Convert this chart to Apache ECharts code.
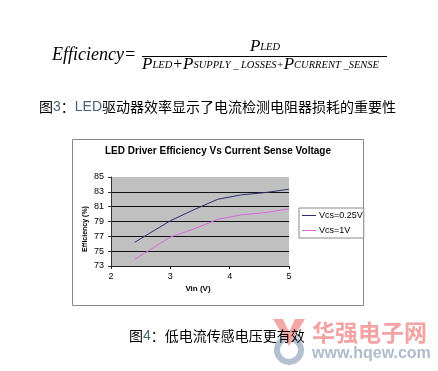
<!DOCTYPE html>
<html>
<head>
<meta charset="utf-8">
<style>
html,body{margin:0;padding:0;background:#fff;}
#c{width:438px;height:371px;}
</style>
<script src="https://cdn.jsdelivr.net/npm/echarts@6/dist/echarts.min.js"></script>
</head>
<body>
<div id="c"></div>
<script>
// ---- data ----
const vin = [2.4, 3.0, 3.4, 3.8, 4.2, 4.6, 5.0];
const effVcs025 = [76.2, 79.1, 80.6, 82.0, 82.6, 82.9, 83.35];
const effVcs1 = [73.9, 76.9, 78.0, 79.3, 79.9, 80.2, 80.7];
const seriesNames = ['Vcs=0.25V', 'Vcs=1V'];
const chartTitle = 'LED Driver Efficiency Vs Current Sense Voltage';
const xName = 'Vin (V)';
const yName = 'Efficiency (%)';
const caption1a = '图';
const caption1b = '3';
const caption1c = '：';
const caption1d = 'LED';
const caption1e = '驱动器效率显示了电流检测电阻器损耗的重要性';
const caption2a = '图';
const caption2b = '4';
const caption2c = '：低电流传感电压更有效';
const wmCn = '华强电子网';
const wmUrl = 'www.hqew.com';

const SANS = '"Liberation Sans", Arial, sans-serif';
const SERIF = '"Liberation Serif", "Times New Roman", serif';
const CJK = '"Noto Sans CJK SC", sans-serif';
const LINE_ICON = 'path://M0,0h14v1h-14z';

const chart = echarts.init(document.getElementById('c'), null, {renderer: 'canvas'});

const pair = (xs, ys) => xs.map((x, i) => [x, ys[i]]);

chart.setOption({
  backgroundColor: '#ffffff',
  animation: false,
  grid: {
    left: 111, top: 177, width: 178, height: 89,
    show: true, backgroundColor: '#c0c0c0', borderWidth: 0
  },
  xAxis: {
    type: 'value', min: 2, max: 5, interval: 1,
    axisLine: {show: true, lineStyle: {color: '#222', width: 1}},
    axisTick: {show: true, length: 3, lineStyle: {color: '#222'}},
    splitLine: {show: false},
    axisLabel: {fontSize: 9, color: '#000', fontFamily: SANS, margin: 6}
  },
  yAxis: {
    type: 'value', min: 73, max: 85, interval: 2,
    axisLine: {show: true, lineStyle: {color: '#333', width: 1}},
    axisTick: {show: true, length: 3, lineStyle: {color: '#333'}},
    splitLine: {show: true, showMinLine: false, showMaxLine: false, lineStyle: {color: '#111', width: 1}},
    axisLabel: {fontSize: 9, color: '#000', fontFamily: SANS, margin: 7}
  },
  legend: {
    orient: 'vertical', left: 299, top: 208,
    data: seriesNames.map(n => ({name: n, icon: LINE_ICON})),
    borderColor: '#888', borderWidth: 1, borderRadius: 0,
    backgroundColor: '#fff',
    padding: [3, 1, 3, 3],
    itemWidth: 14, itemHeight: 8, itemGap: 6,
    textStyle: {fontSize: 9, color: '#000', fontFamily: SANS, padding: [0, 0, 0, -2]}
  },
  series: [
    {name: seriesNames[0], type: 'line', data: pair(vin, effVcs025), symbol: 'none',
     color: '#2e2e6e', lineStyle: {width: 1, color: '#2e2e6e'}},
    {name: seriesNames[1], type: 'line', data: pair(vin, effVcs1), symbol: 'none',
     color: '#dd66dd', lineStyle: {width: 1, color: '#dd66dd'}}
  ],
  graphic: [
    // chart frame
    {type: 'rect', shape: {x: 72.5, y: 139.5, width: 291, height: 166}, silent: true,
     style: {fill: 'none', stroke: '#8a8a8a', lineWidth: 1}, z: 1},
    {type: 'text', style: {text: chartTitle, x: 218, y: 151, textAlign: 'center', textVerticalAlign: 'middle',
     font: 'bold 10px ' + SANS, fill: '#000'}},
    {type: 'text', style: {text: xName, x: 198, y: 289, textAlign: 'center', textVerticalAlign: 'middle',
     font: 'bold 8px ' + SANS, fill: '#000'}},
    {type: 'text', rotation: Math.PI / 2, x: 85, y: 229, style: {text: yName, x: 0, y: 0, textAlign: 'center', textVerticalAlign: 'middle',
     font: 'bold 7px ' + SANS, fill: '#000'}},
    // formula
    {type: 'text', style: {text: 'Efficiency=', x: 52, y: 55, textAlign: 'left', textVerticalAlign: 'middle',
     font: 'italic 18px ' + SERIF, fill: '#000'}},
    {type: 'text', style: {text: '{p|P}{s|LED}', x: 265, y: 46, textAlign: 'center', textVerticalAlign: 'middle',
     rich: {p: {font: 'italic 17px ' + SERIF, fill: '#000', lineHeight: 18, verticalAlign: 'bottom'},
            s: {font: 'italic 10.5px ' + SERIF, fill: '#000', lineHeight: 18, verticalAlign: 'bottom', padding: [0, 0, 2, 0]}}}},
    {type: 'line', shape: {x1: 142, y1: 56.5, x2: 387, y2: 56.5}, style: {stroke: '#000', lineWidth: 1}},
    {type: 'text', style: {text: '{p|P}{s|LED}{o|+}{p|P}{s|SUPPLY _ LOSSES+}{p|P}{s|CURRENT _SENSE}', x: 142, y: 64, textAlign: 'left', textVerticalAlign: 'middle',
     rich: {p: {font: 'italic 17px ' + SERIF, fill: '#000', lineHeight: 18, verticalAlign: 'bottom'},
            o: {font: 'italic 16px ' + SERIF, fill: '#000', lineHeight: 18, verticalAlign: 'bottom'},
            s: {font: 'italic 10.5px ' + SERIF, fill: '#000', lineHeight: 18, verticalAlign: 'bottom', padding: [0, 0, 2, 0]}}}},
    // caption 1
    {type: 'text', style: {text: '{a|' + caption1a + '}{b|' + caption1b + '}{a|' + caption1c + '}{b|' + caption1d + '}{a|' + caption1e + '}',
     x: 39, y: 107, textAlign: 'left', textVerticalAlign: 'middle',
     rich: {a: {font: '14px ' + CJK, fill: '#000'}, b: {font: '14px ' + SANS, fill: '#4a5f78'}}}},
    // watermark logo
    {type: 'circle', shape: {cx: 289, cy: 350, r: 12}, silent: true,
     style: {fill: 'none', stroke: '#b4c0cf', lineWidth: 6}},
    {type: 'polygon', shape: {points: [[273, 319], [283, 319], [289, 332], [295, 319], [305, 319], [289, 346]]}, silent: true,
     style: {fill: '#f3a7a7'}},
    {type: 'text', style: {text: wmCn, x: 312, y: 332, textAlign: 'left', textVerticalAlign: 'middle',
     font: 'bold 23px ' + CJK, fill: '#f3a3a3'}},
    {type: 'text', style: {text: wmUrl, x: 312, y: 354, textAlign: 'left', textVerticalAlign: 'middle',
     font: 'bold 16px ' + SANS, fill: '#aebccb'}},
    // caption 2
    {type: 'text', style: {text: '{a|' + caption2a + '}{b|' + caption2b + '}{a|' + caption2c + '}',
     x: 129, y: 336, textAlign: 'left', textVerticalAlign: 'middle',
     rich: {a: {font: '14px ' + CJK, fill: '#000'}, b: {font: '14px ' + SANS, fill: '#3f6a72'}}}}
  ]
});
</script>
</body>
</html>
